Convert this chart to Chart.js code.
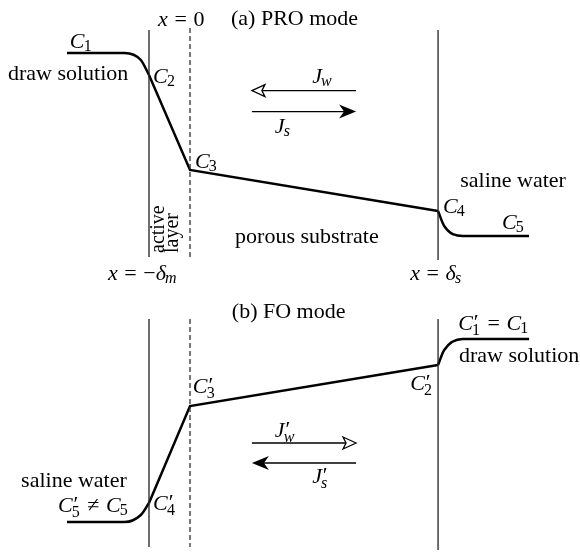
<!DOCTYPE html>
<html>
<head>
<meta charset="utf-8">
<script src="https://cdn.jsdelivr.net/npm/chart.js@4.4.1/dist/chart.umd.min.js"></script>
<style>
  html, body { margin: 0; padding: 0; background: #fff; }
  canvas { display: block; }
</style>
</head>
<body>
<canvas id="proChart" width="580" height="290"></canvas>
<canvas id="foChart" width="580" height="262"></canvas>
<script>
// x: position across the membrane (dashed interface at 0), y: concentration (arbitrary units)
const xActive = -1;
const xInterface = 0;
const xSupport = 6.05;

// (a) PRO mode
const proDrawX = [-3.0, -1.6, -1.2, -1.0];
const proDrawC = [9.85, 9.85, 9.5, 8.75];
const proMembraneC = [8.75, 4.0, 1.95];
const proSalineX = [6.05, 6.2, 6.65, 8.27];
const proSalineC = [1.95, 1.2, 0.7, 0.7];
const proWall = [11.0, -0.35];
const proSupportWall = [11.0, -0.5];

// (b) FO mode
const foSalineX = [-3.0, -1.6, -1.2, -1.0];
const foSalineC = [0.9, 0.9, 1.25, 1.85];
const foMembraneC = [1.85, 6.7, 8.75];
const foDrawX = [6.05, 6.2, 6.65, 8.27];
const foDrawC = [8.75, 9.5, 10.05, 10.05];
const foWall = [11.05, -0.35];
const foSupportWall = [11.05, -0.5];

// flux arrows: [from, to, level, head]
const proArrows = [
    [4.05, 1.51, 7.97, 'open'],
    [1.51, 4.05, 6.92, 'filled']
];
const foArrows = [
    [1.51, 4.05, 4.85, 'open'],
    [4.05, 1.51, 3.85, 'filled']
];

// labels: [text, x, c, kind]
const proLabels = [
    ['x = 0', -0.78, 11.2, 'math'],
    ['(a) PRO mode', 1.0, 11.25, 'text'],
    ['C_1', -2.93, 10.1, 'math'],
    ['draw solution', -4.44, 8.5, 'text'],
    ['C_2', -0.9, 8.35, 'math'],
    ['C_3', 0.12, 4.1, 'math'],
    ['J_w', 2.98, 8.35, 'math'],
    ['J_s', 2.07, 5.85, 'math'],
    ['saline water', 6.59, 3.15, 'text'],
    ['C_4', 6.17, 1.85, 'math'],
    ['C_5', 7.61, 1.05, 'math'],
    ['porous substrate', 1.1, 0.35, 'text'],
    ['x = −δ_m', -2.0, -1.5, 'math'],
    ['x = δ_s', 5.37, -1.5, 'math'],
    ['active', -0.634, -0.15, 'rotated'],
    ['layer', -0.293, -0.15, 'rotated']
];
const foLabels = [
    ['(b) FO mode', 1.02, 11.1, 'text'],
    ["C'_1 = C_1", 6.54, 10.5, 'math'],
    ['draw solution', 6.56, 8.9, 'text'],
    ["C'_2", 5.37, 7.5, 'math'],
    ["C'_3", 0.07, 7.35, 'math'],
    ["J'_w", 2.07, 5.15, 'math'],
    ["J'_s", 2.98, 2.85, 'math'],
    ['saline water', -4.12, 2.65, 'text'],
    ["C'_5 ≠ C_5", -3.22, 1.4, 'math'],
    ["C'_4", -0.9, 1.5, 'math']
];

const FONT = '"Liberation Serif", "Times New Roman", serif';
const SIZE = 22;

function drawMath(ctx, s, x, y, size) {
    const base = size + 'px ' + FONT;
    const ital = 'italic ' + base;
    const small = Math.round(size * 0.72) + 'px ' + FONT;
    const smallIt = 'italic ' + small;
    let cx = x, sx = null, sw = 0, primed = false;
    const flush = () => {
        if (sx !== null) { cx = sx + sw + size * 0.04; sx = null; sw = 0; primed = false; }
    };
    for (let i = 0; i < s.length; i++) {
        const ch = s[i];
        if (ch === "'" || ch === '_') {
            if (sx === null) { sx = cx - size * 0.04; sw = 0; }
            if (ch === "'") {
                primed = true;
                ctx.font = base;
                ctx.fillText('′', sx + size * 0.08, y - size * 0.04);
                sw = Math.max(sw, ctx.measureText('′').width + size * 0.08);
            } else {
                const c = s[++i];
                ctx.font = /\d/.test(c) ? small : smallIt;
                ctx.fillText(c, sx, y + size * (primed ? 0.24 : 0.15));
                sw = Math.max(sw, ctx.measureText(c).width);
            }
            continue;
        }
        flush();
        if (ch === ' ') { cx += size * 0.3; continue; }
        ctx.font = /[A-Za-z\u03b1-\u03c9]/.test(ch) ? ital : base;
        ctx.fillText(ch, cx, y);
        cx += ctx.measureText(ch).width;
    }
}

function drawArrow(ctx, x0, x1, y, head) {
    const dir = Math.sign(x1 - x0);
    const len = head === 'open' ? 13 : 17;
    const half = head === 'open' ? 6 : 7;
    const back = head === 'open' ? 10 : 12;
    ctx.beginPath();
    ctx.moveTo(x0, y);
    ctx.lineTo(x1 - dir * back, y);
    ctx.lineWidth = 1.3;
    ctx.strokeStyle = '#000';
    ctx.stroke();
    ctx.beginPath();
    ctx.moveTo(x1, y);
    ctx.lineTo(x1 - dir * len, y - half);
    ctx.lineTo(x1 - dir * back, y);
    ctx.lineTo(x1 - dir * len, y + half);
    ctx.closePath();
    if (head === 'open') {
        ctx.fillStyle = '#fff';
        ctx.fill();
        ctx.lineWidth = 1.3;
        ctx.lineJoin = 'miter';
        ctx.stroke();
    } else {
        ctx.fillStyle = '#000';
        ctx.fill();
    }
}

function overlay(labels, arrows) {
    return {
        id: 'overlay',
        afterDatasetsDraw(chart) {
            const ctx = chart.ctx;
            const sx = chart.scales.x, sy = chart.scales.y;
            ctx.save();
            arrows.forEach(([a, b, c, head]) => {
                drawArrow(ctx, sx.getPixelForValue(a), sx.getPixelForValue(b), sy.getPixelForValue(c), head);
            });
            ctx.textBaseline = 'alphabetic';
            ctx.textAlign = 'left';
            labels.forEach(([text, x, c, kind]) => {
                const px = sx.getPixelForValue(x), py = sy.getPixelForValue(c);
                ctx.fillStyle = '#000';
                if (kind === 'math') {
                    drawMath(ctx, text, px, py, SIZE);
                } else if (kind === 'rotated') {
                    ctx.save();
                    ctx.translate(px, py);
                    ctx.rotate(-Math.PI / 2);
                    ctx.font = '20px ' + FONT;
                    ctx.fillText(text, 0, 0);
                    ctx.restore();
                } else {
                    ctx.font = SIZE + 'px ' + FONT;
                    ctx.fillText(text, px, py);
                }
            });
            ctx.restore();
        }
    };
}

function pts(xs, cs) {
    return xs.map((x, i) => ({ x: x, y: cs[i] }));
}

function line(data, opts) {
    return Object.assign({
        data: data,
        showLine: true,
        pointRadius: 0,
        borderColor: '#000',
        borderWidth: 2.5,
        tension: 0,
        fill: false
    }, opts || {});
}

function wall(x, range, opts) {
    return line([{ x: x, y: range[0] }, { x: x, y: range[1] }],
        Object.assign({ borderColor: '#222', borderWidth: 1.3 }, opts || {}));
}

function makeChart(id, yMin, datasets, labels, arrows) {
    return new Chart(document.getElementById(id).getContext('2d'), {
        type: 'scatter',
        data: { datasets: datasets },
        options: {
            responsive: false,
            animation: false,
            layout: { padding: 0 },
            plugins: { legend: { display: false }, tooltip: { enabled: false } },
            scales: {
                x: { type: 'linear', display: false, min: -4.634, max: 9.512 },
                y: { type: 'linear', display: false, min: yMin, max: 12.5 }
            }
        },
        plugins: [overlay(labels, arrows)]
    });
}

const membraneX = [xActive, xInterface, xSupport];

makeChart('proChart', -2, [
    wall(xActive, proWall),
    wall(xInterface, [11.1, -0.35], { borderDash: [5, 3], borderColor: '#333' }),
    wall(xSupport, proSupportWall),
    line(pts(proDrawX, proDrawC), { cubicInterpolationMode: 'monotone' }),
    line(pts(membraneX, proMembraneC)),
    line(pts(proSalineX, proSalineC), { cubicInterpolationMode: 'monotone' })
], proLabels, proArrows);

makeChart('foChart', -0.6, [
    wall(xActive, foWall),
    wall(xInterface, foWall, { borderDash: [5, 3], borderColor: '#333' }),
    wall(xSupport, foSupportWall),
    line(pts(foSalineX, foSalineC), { cubicInterpolationMode: 'monotone' }),
    line(pts(membraneX, foMembraneC)),
    line(pts(foDrawX, foDrawC), { cubicInterpolationMode: 'monotone' })
], foLabels, foArrows);
</script>
</body>
</html>
